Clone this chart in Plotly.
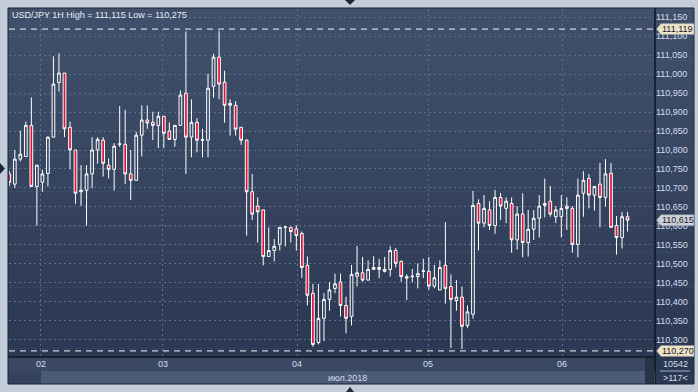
import plotly.graph_objects as go

# ---------------- data (USD/JPY 1H) ----------------
opens = [110.737,110.710,110.776,110.783,110.865,110.704,110.715,110.738,110.834,110.978,
         111.003,110.860,110.800,110.690,110.694,110.737,110.800,110.826,110.760,110.749,
         110.815,110.815,110.737,110.720,110.839,110.879,110.873,110.865,110.889,110.850,
         110.828,110.865,110.950,110.834,110.873,110.826,110.826,110.968,111.045,110.979,
         110.923,110.918,110.860,110.826,110.690,110.652,110.642,110.519,110.535,110.551,
         110.596,110.596,110.592,110.580,110.496,110.422,110.292,110.356,110.406,110.435,
         110.452,110.390,110.361,110.467,110.476,110.457,110.485,110.490,110.480,110.485,
         110.535,110.506,110.466,110.466,110.466,110.480,110.480,110.441,110.431,110.496,
         110.440,110.403,110.412,110.337,110.367,110.659,110.607,110.642,110.601,110.675,
         110.646,110.659,110.563,110.631,110.556,110.591,110.620,110.654,110.665,110.624,
         110.624,110.652,110.646,110.551,110.686,110.725,110.681,110.710,110.675,110.739,
         110.601,110.569,110.624]
highs = [110.745,110.800,110.851,110.875,110.939,110.760,110.748,110.836,111.047,111.055,
         111.003,110.875,110.800,110.760,110.760,110.834,110.834,110.834,110.778,110.818,
         110.916,110.906,110.800,110.848,110.918,110.918,110.901,110.901,110.889,110.873,
         110.865,110.957,111.113,110.934,110.884,110.856,111.001,111.054,111.115,111.009,
         110.934,110.929,110.860,110.828,110.737,110.675,110.642,110.596,110.565,110.596,
         110.598,110.597,110.601,110.585,110.519,110.447,110.447,110.422,110.452,110.474,
         110.474,110.413,110.497,110.547,110.518,110.509,110.520,110.513,110.518,110.546,
         110.541,110.509,110.472,110.486,110.501,110.513,110.518,110.497,110.509,110.610,
         110.472,110.457,110.440,110.390,110.692,110.670,110.681,110.665,110.695,110.687,
         110.675,110.675,110.652,110.686,110.642,110.642,110.681,110.725,110.705,110.652,
         110.681,110.675,110.652,110.725,110.744,110.737,110.704,110.766,110.776,110.766,
         110.626,110.637,110.637]
lows = [110.705,110.700,110.770,110.783,110.704,110.601,110.690,110.704,110.834,110.954,
        110.834,110.749,110.658,110.653,110.601,110.699,110.764,110.730,110.725,110.693,
        110.808,110.710,110.668,110.720,110.783,110.856,110.826,110.805,110.805,110.828,
        110.809,110.865,110.737,110.781,110.794,110.781,110.781,110.938,110.934,110.872,
        110.838,110.838,110.814,110.574,110.615,110.556,110.496,110.519,110.506,110.535,
        110.546,110.556,110.535,110.462,110.390,110.281,110.287,110.296,110.376,110.422,
        110.361,110.316,110.337,110.440,110.452,110.456,110.485,110.462,110.477,110.466,
        110.490,110.452,110.404,110.451,110.435,110.462,110.431,110.435,110.430,110.395,
        110.278,110.376,110.275,110.330,110.355,110.535,110.596,110.589,110.579,110.615,
        110.607,110.529,110.537,110.517,110.519,110.563,110.569,110.622,110.624,110.607,
        110.569,110.589,110.529,110.517,110.624,110.646,110.640,110.596,110.651,110.596,
        110.524,110.540,110.585]
closes = [110.715,110.776,110.789,110.865,110.704,110.760,110.737,110.834,110.974,111.003,
          110.856,110.800,110.686,110.694,110.737,110.800,110.828,110.765,110.749,110.810,
          110.816,110.737,110.720,110.839,110.879,110.871,110.865,110.889,110.844,110.828,
          110.865,110.945,110.834,110.873,110.826,110.827,110.963,111.045,110.974,110.918,
          110.918,110.855,110.826,110.690,110.631,110.637,110.519,110.535,110.546,110.596,
          110.597,110.585,110.574,110.490,110.417,110.287,110.356,110.406,110.431,110.447,
          110.390,110.356,110.472,110.476,110.457,110.485,110.490,110.485,110.485,110.535,
          110.501,110.466,110.462,110.467,110.474,110.481,110.441,110.463,110.490,110.435,
          110.406,110.412,110.335,110.373,110.654,110.607,110.646,110.601,110.675,110.652,
          110.665,110.563,110.631,110.556,110.591,110.620,110.652,110.659,110.631,110.642,
          110.646,110.646,110.551,110.681,110.720,110.681,110.704,110.675,110.737,110.596,
          110.569,110.624,110.615]
bars = list(range(len(opens)))

day_labels = ["02", "03", "04", "05", "06"]
day_pos = [5.74, 27.84, 52.12, 75.85, 100.13]
month_label = "июл.2018"
title_text = "USD/JPY 1H High = 111,115 Low = 110,275"
ref_lines = [111.119, 110.270]
last_price = 110.615
info_top, info_bottom = "10542", ">117<"

# ---------------- layout geometry helpers ----------------
W, H = 698, 392
L, R, T, B = 9, 655, 9, 357


def px(x):
    return (x - L) / (R - L)


def py(y):
    return (B - y) / (B - T)


FONT = "Liberation Sans"
TXT = "#d3deec"

fig = go.Figure()
fig.add_trace(go.Candlestick(
    x=bars, open=opens, high=highs, low=lows, close=closes,
    increasing=dict(line=dict(color="#ffffff", width=1), fillcolor="rgba(0,0,0,0)"),
    decreasing=dict(line=dict(color="#ffffff", width=1), fillcolor="#dc1438"),
    whiskerwidth=0, hoverinfo="skip", showlegend=False,
))

shapes = []
# gradient background (panel + right axis)
N = 40
top_c, bot_c = (64, 80, 107), (43, 56, 83)
for i in range(N):
    y0 = 8 + (B - 8) * i / N
    y1 = 8 + (B - 8) * (i + 1) / N + 0.5
    t = (i + 0.5) / N
    c = tuple(round(top_c[k] + (bot_c[k] - top_c[k]) * t) for k in range(3))
    shapes.append(dict(type="rect", xref="paper", yref="paper", layer="below",
                       x0=px(8), x1=px(694), y0=py(y1), y1=py(y0),
                       fillcolor="rgb(%d,%d,%d)" % c, line=dict(width=0)))
# bottom bands
def rect(x0, x1, y0, y1, color, layer="below"):
    shapes.append(dict(type="rect", xref="paper", yref="paper", layer=layer,
                       x0=px(x0), x1=px(x1), y0=py(y1), y1=py(y0),
                       fillcolor=color, line=dict(width=0)))

rect(8, 655, 357, 371, "#3a4864")
rect(41, 645, 371, 384, "#4b5a77")
rect(8, 41, 371, 384, "#34425d")
rect(645, 654, 357, 384, "#27334b")
rect(655, 694, 357, 384, "#2b3852")

# separators / borders
shapes.append(dict(type="line", xref="paper", yref="paper", x0=px(660), x1=px(690),
                   y0=py(371), y1=py(371), line=dict(color="#9fb0c8", width=1)))
shapes.append(dict(type="line", xref="paper", yref="paper", x0=px(655), x1=px(655),
                   y0=py(8), y1=py(384), line=dict(color="#10161f", width=1.5)))
shapes.append(dict(type="line", xref="paper", yref="paper", x0=px(8), x1=px(655),
                   y0=py(357), y1=py(357), line=dict(color="#10161f", width=1.5)))
shapes.append(dict(type="rect", xref="paper", yref="paper", x0=px(8), x1=px(694),
                   y0=py(384), y1=py(8), line=dict(color="#1b2536", width=1)))

# small window triangles
def tri(pts, color="#1e2838"):
    path = "M " + " L ".join("%f,%f" % (px(a), py(b)) for a, b in pts) + " Z"
    shapes.append(dict(type="path", xref="paper", yref="paper", path=path,
                       fillcolor=color, line=dict(width=0)))

tri([(345, 0), (355, 0), (350, 5)])
tri([(0, 163), (5, 168.5), (0, 174)])
tri([(346, 392), (354, 392), (350, 387)])

# dashed high/low lines
for v in ref_lines:
    shapes.append(dict(type="line", xref="paper", yref="y", x0=0, x1=1, y0=v, y1=v,
                       line=dict(color="#f2f4f8", width=1, dash="6px,5px")))

# price tags on the right axis
hh = 5.5 / 380
tags = [(ref_lines[0], "#ece4c6"), (last_price, "#ccd1d9"), (ref_lines[1], "#ece4c6")]
annotations = []
for v, col in tags:
    path = "M %f,%f L %f,%f L %f,%f L %f,%f L %f,%f Z" % (
        px(656.5), v, px(661), v + hh, px(694), v + hh, px(694), v - hh, px(661), v - hh)
    shapes.append(dict(type="path", xref="paper", yref="y", path=path,
                       fillcolor=col, line=dict(color="#8a8f99", width=0.5)))
    annotations.append(dict(xref="paper", yref="y", x=px(677.5), y=v,
                            text=("%.3f" % v).replace(".", ","), showarrow=False,
                            xanchor="center", yanchor="middle",
                            font=dict(family=FONT, size=9, color="#1a2030")))

annotations += [
    dict(xref="paper", yref="paper", x=px(10), y=py(15), text=title_text,
         showarrow=False, xanchor="left", yanchor="middle",
         font=dict(family=FONT, size=9, color="#e6ecf4")),
    dict(xref="paper", yref="paper", x=px(348), y=py(377.5), text=month_label,
         showarrow=False, xanchor="center", yanchor="middle",
         font=dict(family=FONT, size=9, color=TXT)),
    dict(xref="paper", yref="paper", x=px(675), y=py(364), text=info_top,
         showarrow=False, xanchor="center", yanchor="middle",
         font=dict(family=FONT, size=9, color=TXT)),
    dict(xref="paper", yref="paper", x=px(675), y=py(378), text=info_bottom,
         showarrow=False, xanchor="center", yanchor="middle",
         font=dict(family=FONT, size=9, color=TXT)),
]

fig.update_layout(
    width=W, height=H, autosize=False,
    margin=dict(l=L, r=W - R, t=T, b=H - B, pad=0),
    paper_bgcolor="#c3ccd9", plot_bgcolor="rgba(0,0,0,0)",
    separators=", ",
    showlegend=False, hovermode=False,
    shapes=shapes, annotations=annotations,
    xaxis=dict(range=[-0.05, 116.97], tickmode="array", tickvals=day_pos, ticktext=day_labels,
               showgrid=True, gridcolor="#5d6d8a", griddash="2px,3px", gridwidth=1,
               zeroline=False, showline=False, ticks="", rangeslider=dict(visible=False),
               tickfont=dict(family=FONT, size=9, color=TXT), fixedrange=True),
    yaxis=dict(side="right", range=[110.254, 111.172], tick0=110.0, dtick=0.05,
               tickformat=".3f", showgrid=True, gridcolor="#5d6d8a", griddash="2px,3px",
               gridwidth=1, zeroline=False, showline=False, ticks="",
               tickfont=dict(family=FONT, size=9, color=TXT), fixedrange=True),
)

fig.write_html("out.html")
